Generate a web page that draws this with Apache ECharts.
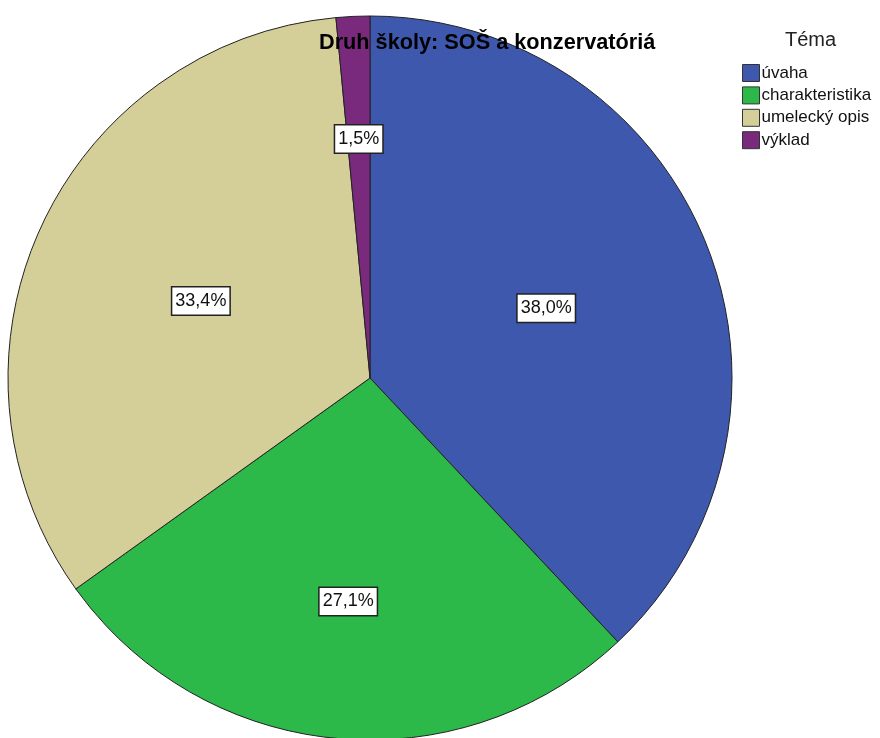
<!DOCTYPE html>
<html>
<head>
<meta charset="utf-8">
<script src="https://cdn.jsdelivr.net/npm/echarts@6/dist/echarts.min.js"></script>
<style>html,body{margin:0;padding:0;background:#fff}#c{width:880px;height:738px}</style>
</head>
<body>
<div id="c"></div>
<script>
const categories = ['úvaha', 'charakteristika', 'umelecký opis', 'výklad'];
const percents = [38.0, 27.1, 33.4, 1.5];
const colors = ['#3D58AC', '#2DB84A', '#D4CE98', '#792A7C'];
const titleText = 'Druh školy: SOŠ a konzervatóriá';
const legendTitle = 'Téma';

const CX = 370, CY = 378, R = 362;
const labelRadial = [1.03, 1.22, 1.01, 1.30];

const chart = echarts.init(document.getElementById('c'));
chart.setOption({
  animation: false,
  title: [
    { text: titleText, left: 319, top: 32, padding: 0,
      textStyle: { fontFamily: 'Liberation Sans', fontWeight: 'bold', fontSize: 21.7, color: '#000' } },
    { text: legendTitle, left: 785, top: 30, padding: 0,
      textStyle: { fontFamily: 'Liberation Sans', fontWeight: 'normal', fontSize: 20, color: '#222' } }
  ],
  legend: {
    orient: 'vertical', left: 742, top: 64, padding: 0,
    itemWidth: 17, itemHeight: 17, itemGap: 4.4,
    icon: 'rect',
    itemStyle: { borderColor: '#333', borderWidth: 1 },
    textStyle: { fontFamily: 'Liberation Sans', fontSize: 17, color: '#111', padding: [0, 0, 0, -3] },
    data: categories
  },
  series: [{
    type: 'pie',
    center: [CX, CY],
    radius: [0, R],
    startAngle: 90,
    clockwise: true,
    z: 1,
    itemStyle: { borderColor: '#222', borderWidth: 1 },
    label: {
      show: true, position: 'inside',
      formatter: p => p.value.toFixed(1).replace('.', ',') + '%',
      fontFamily: 'Liberation Sans', fontSize: 18, color: '#111',
      backgroundColor: '#fff', borderColor: '#222', borderWidth: 1.5,
      padding: [5, 3, 4, 3]
    },
    labelLayout: function (p) {
      const r = p.labelRect;
      const lx = r.x + r.width / 2, ly = r.y + r.height / 2;
      const f = labelRadial[p.dataIndex] - 1;
      return { dx: (lx - CX) * f, dy: (ly - CY) * f };
    },
    emphasis: { disabled: true },
    data: categories.map((c, i) => ({ name: c, value: percents[i], itemStyle: { color: colors[i] } }))
  }]
});
</script>
</body>
</html>
